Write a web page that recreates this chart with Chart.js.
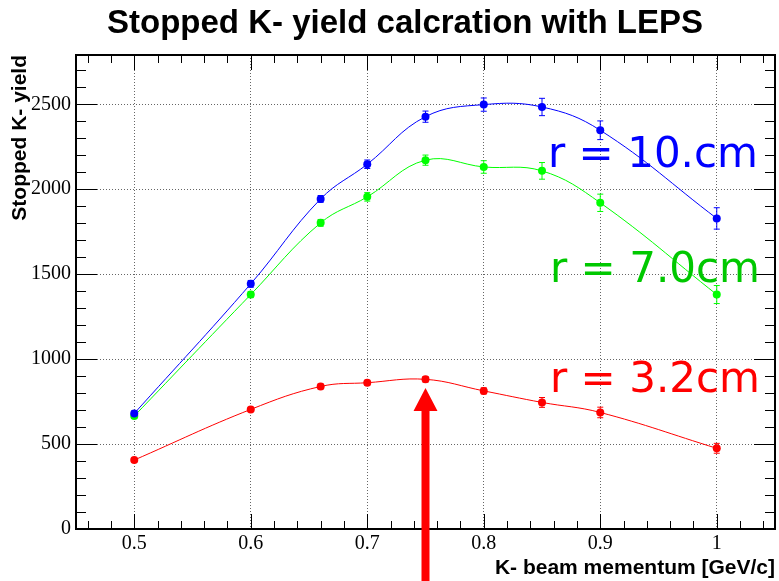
<!DOCTYPE html>
<html>
<head>
<meta charset="utf-8">
<script src="https://cdn.jsdelivr.net/npm/chart.js@4.4.1/dist/chart.umd.min.js"></script>
<style>
  html, body { margin: 0; padding: 0; background: #fff; }
  #wrap { width: 779px; height: 581px; }
</style>
</head>
<body>
<div id="wrap"><canvas id="yieldChart" width="779" height="581"></canvas></div>
<script>
// ---------- Data ----------

const momentum = [0.5, 0.6, 0.66, 0.7, 0.75, 0.8, 0.85, 0.9, 1.0];

const yieldR10 = [680, 1443, 1943, 2147, 2427, 2498, 2484, 2347, 1828];
const errR10   = [15, 20, 20, 25, 33, 39, 51, 55, 63];

const yieldR7  = [665, 1380, 1802, 1955, 2171, 2131, 2108, 1920, 1380];
const errR7    = [12, 18, 20, 25, 30, 37, 49, 51, 53];

const yieldR3  = [406, 704, 839, 861, 881, 813, 745, 686, 475];
const errR3    = [10, 12, 14, 14, 16, 18, 29, 31, 29];

const xTickValues = [0.5, 0.6, 0.7, 0.8, 0.9, 1.0];
const yTickValues = [0, 500, 1000, 1500, 2000, 2500];

const radiusLabels = ['r = 10.cm', 'r = 7.0cm', 'r = 3.2cm'];
const arrowMomentum = 0.75;
const arrowTipYield = 830;

// ---------- Helpers ----------

function toPoints(ys) {
  return momentum.map((x, i) => ({ x, y: ys[i] }));
}

function series(label, ys, errs, color) {
  return {
    label,
    data: toPoints(ys),
    errors: errs,
    borderColor: color,
    backgroundColor: color,
    borderWidth: 1,
    pointRadius: 4,
    pointHoverRadius: 4,
    pointBorderWidth: 0,
    pointBackgroundColor: color,
    tension: 0.4,
    fill: false
  };
}

// vertical error bars, drawn under the markers
const errorBars = {
  id: 'errorBars',
  beforeDatasetsDraw(chart) {
    const ctx = chart.ctx;
    const y = chart.scales.y;
    ctx.save();
    chart.data.datasets.forEach((ds, di) => {
      const meta = chart.getDatasetMeta(di);
      ctx.strokeStyle = ds.borderColor;
      ctx.lineWidth = 1;
      meta.data.forEach((pt, i) => {
        const v = ds.data[i].y;
        const e = ds.errors[i];
        const top = y.getPixelForValue(v + e);
        const bot = y.getPixelForValue(v - e);
        ctx.beginPath();
        ctx.moveTo(pt.x, top); ctx.lineTo(pt.x, bot);
        ctx.moveTo(pt.x - 3, top); ctx.lineTo(pt.x + 3, top);
        ctx.moveTo(pt.x - 3, bot); ctx.lineTo(pt.x + 3, bot);
        ctx.stroke();
      });
    });
    ctx.restore();
  }
};

// ROOT-style frame: box + inward ticks on all four sides
const rootFrame = {
  id: 'rootFrame',
  afterDatasetsDraw(chart) {
    const { ctx, chartArea: a } = chart;
    const xs = chart.scales.x, ys = chart.scales.y;
    ctx.save();
    ctx.strokeStyle = '#000';
    ctx.lineWidth = 1;
    ctx.beginPath();
    for (let k = 23; k <= 52; k++) {
      const v = k / 50;
      const px = Math.round(xs.getPixelForValue(v)) + 0.5;
      const len = (k % 5 === 0) ? 15 : 8;
      ctx.moveTo(px, a.bottom); ctx.lineTo(px, a.bottom - len);
      ctx.moveTo(px, a.top); ctx.lineTo(px, a.top + len);
    }
    for (let v = 100; v <= 2700; v += 100) {
      const py = Math.round(ys.getPixelForValue(v)) + 0.5;
      const len = (v % 500 === 0) ? 21 : 10;
      ctx.moveTo(a.left, py); ctx.lineTo(a.left + len, py);
      ctx.moveTo(a.right, py); ctx.lineTo(a.right - len, py);
    }
    ctx.stroke();
    ctx.lineWidth = 2;
    ctx.strokeRect(a.left, a.top, a.right - a.left, a.bottom - a.top);
    ctx.restore();
  }
};

// title, radius labels and the arrow
const overlay = {
  id: 'overlay',
  afterDraw(chart) {
    const ctx = chart.ctx;
    const xs = chart.scales.x, ys = chart.scales.y;
    ctx.save();

    ctx.fillStyle = '#000';
    ctx.font = 'bold 33px "Liberation Sans", Arial, sans-serif';
    ctx.textAlign = 'center';
    ctx.textBaseline = 'alphabetic';
    ctx.fillText('Stopped K- yield calcration with LEPS', 405, 33);

    ctx.font = '42px "DejaVu Sans", sans-serif';
    ctx.textAlign = 'left';
    ctx.fillStyle = '#0000ff';
    ctx.fillText(radiusLabels[0], 548, 167);
    ctx.fillStyle = '#00c800';
    ctx.fillText(radiusLabels[1], 550, 282);
    ctx.fillStyle = '#ff0000';
    ctx.fillText(radiusLabels[2], 550, 392);

    const ax = xs.getPixelForValue(arrowMomentum);
    const tip = ys.getPixelForValue(arrowTipYield);
    ctx.fillStyle = '#ff0000';
    ctx.beginPath();
    ctx.moveTo(ax, tip);
    ctx.lineTo(ax + 12, tip + 23);
    ctx.lineTo(ax + 4, tip + 23);
    ctx.lineTo(ax + 4, chart.height);
    ctx.lineTo(ax - 4, chart.height);
    ctx.lineTo(ax - 4, tip + 23);
    ctx.lineTo(ax - 12, tip + 23);
    ctx.closePath();
    ctx.fill();
    ctx.restore();
  }
};

// ---------- Chart ----------

document.addEventListener('DOMContentLoaded', () => {
  const ctx = document.getElementById('yieldChart').getContext('2d');
  new Chart(ctx, {
    type: 'line',
    data: {
      datasets: [
        series('r = 10.cm', yieldR10, errR10, '#0000ff'),
        series('r = 7.0cm', yieldR7, errR7, '#00ff00'),
        series('r = 3.2cm', yieldR3, errR3, '#ff0000')
      ]
    },
    options: {
      responsive: false,
      animation: false,
      devicePixelRatio: 1,
      layout: { padding: { top: 55, right: 3, bottom: 0, left: 0 } },
      plugins: {
        legend: { display: false },
        tooltip: { enabled: false },
        title: { display: false }
      },
      scales: {
        x: {
          type: 'linear',
          min: 0.45,
          max: 1.05,
          afterBuildTicks: (s) => { s.ticks = xTickValues.map((v) => ({ value: v })); },
          afterFit: (s) => { s.height = 52; },
          ticks: {
            font: { family: '"Liberation Serif", "Times New Roman", serif', size: 20 },
            color: '#000',
            padding: 3,
            maxRotation: 0,
            callback: (v) => String(v)
          },
          grid: { color: 'rgba(0,0,0,0.6)', lineWidth: 1, drawTicks: false },
          border: { display: false, dash: [1, 2] },
          title: {
            display: true,
            text: 'K- beam mementum [GeV/c]',
            align: 'end',
            color: '#000',
            font: { family: '"Liberation Sans", Arial, sans-serif', size: 21, weight: 'bold' },
            padding: { top: 0, bottom: 0 }
          }
        },
        y: {
          type: 'linear',
          min: 0,
          max: 2790,
          afterBuildTicks: (s) => { s.ticks = yTickValues.map((v) => ({ value: v })); },
          afterFit: (s) => { s.width = 76; },
          ticks: {
            font: { family: '"Liberation Serif", "Times New Roman", serif', size: 20 },
            color: '#000',
            padding: 5,
            callback: (v) => String(v)
          },
          grid: { color: 'rgba(0,0,0,0.6)', lineWidth: 1, drawTicks: false },
          border: { display: false, dash: [1, 2] },
          title: {
            display: true,
            text: 'Stopped K- yield',
            align: 'end',
            color: '#000',
            font: { family: '"Liberation Sans", Arial, sans-serif', size: 21, weight: 'bold' },
            padding: { top: 8, bottom: 0 }
          }
        }
      }
    },
    plugins: [errorBars, rootFrame, overlay]
  });
});
</script>
</body>
</html>
